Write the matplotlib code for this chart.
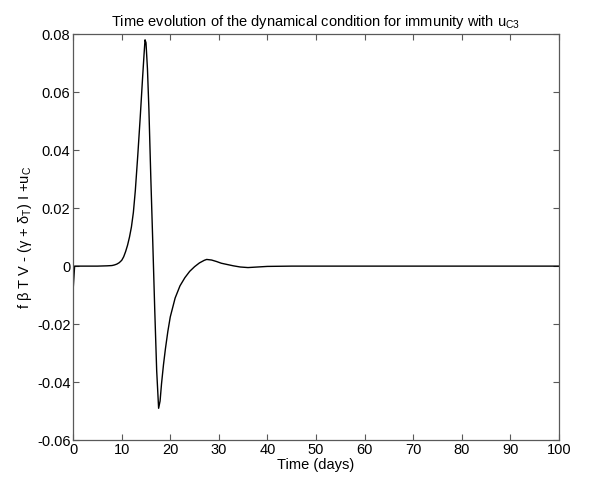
import matplotlib
matplotlib.use("Agg")
import matplotlib.pyplot as plt

plt.rcParams["font.family"] = ["Liberation Sans", "DejaVu Sans"]
plt.rcParams["mathtext.fontset"] = "custom"
plt.rcParams["mathtext.rm"] = "Liberation Sans"
plt.rcParams["mathtext.it"] = "Liberation Sans"
plt.rcParams["mathtext.default"] = "regular"

# values
days = [0, 0.3, 1, 5, 7, 8, 8.5, 9, 9.5, 10, 10.4, 10.8, 11.2, 11.6, 12.0,
        12.4, 12.8, 13.3, 13.8, 14.3, 14.6, 14.8, 15.0, 15.3, 15.6, 16.0, 16.4,
        16.8, 17.2, 17.6, 17.9, 18.2, 18.6, 19.0, 19.5, 20, 21, 22, 23, 24, 25,
        26, 27, 27.5, 28.5, 29.5, 30.5, 31.6, 33, 34.4, 36, 38, 40, 45, 100]
condition = [-0.008, 0, 0, 0, 0.0001, 0.0002, 0.0004, 0.0007, 0.0012, 0.002,
             0.0032, 0.0050, 0.0072, 0.0100, 0.0135, 0.0185, 0.0260, 0.0380,
             0.0510, 0.0650, 0.0730, 0.0780, 0.0770, 0.0680, 0.0540, 0.0300,
             0.0080, -0.0150, -0.0360, -0.0490, -0.0465, -0.0405, -0.0340,
             -0.0285, -0.0225, -0.0175, -0.0110, -0.0068, -0.0040, -0.0018,
             -0.0002, 0.0011, 0.0020, 0.0023, 0.0021, 0.0016, 0.0010, 0.0006,
             0.0001, -0.0003, -0.0005, -0.0003, -0.0001, 0, 0]

x_ticks = list(range(0, 101, 10))
y_ticks = [-0.06, -0.04, -0.02, 0, 0.02, 0.04, 0.06, 0.08]
y_labels = ["-0.06", "-0.04", "-0.02", "0", "0.02", "0.04", "0.06", "0.08"]

fig = plt.figure(figsize=(5.9, 4.79), dpi=100)
ax = fig.add_axes([0.124, 0.081, 0.823, 0.848])
ax.plot(days, condition, color="black", linewidth=1.0)

ax.set_xlim(0, 100)
ax.set_ylim(-0.06, 0.08)
ax.set_xticks(x_ticks)
ax.set_yticks(y_ticks)
ax.set_yticklabels(y_labels)
ax.tick_params(direction="in", top=True, right=True, labelsize=10.5,
               length=4, width=0.8, color="0.35", pad=2)
for s in ax.spines.values():
    s.set_color("0.35")
    s.set_linewidth(0.9)

ax.set_xlabel("Time (days)", fontsize=10.5, labelpad=1)
ax.set_ylabel("f β T V - (γ + δ$_T$) I +u$_C$", fontsize=10.5, labelpad=2)
ax.set_title("Time evolution of the dynamical condition for immunity with u$_{C3}$",
             fontsize=10.5, pad=6)

fig.savefig("out.png", dpi=100)
